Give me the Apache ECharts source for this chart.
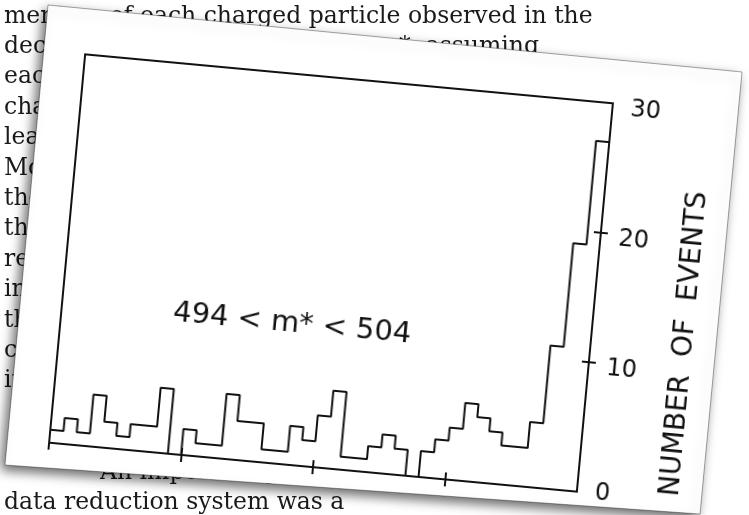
<!DOCTYPE html>
<html>
<head>
<meta charset="utf-8">
<script src="https://cdn.jsdelivr.net/npm/echarts@6/dist/echarts.min.js"></script>
<style>
  html, body { margin: 0; padding: 0; width: 749px; height: 515px; overflow: hidden; background: #fff; }
  #page { position: absolute; left: 0; top: 0; width: 749px; height: 515px; }
  #plot {
    position: absolute; left: 6px; top: 28px; width: 720px; height: 500px;
    transform-origin: 325px 245px; transform: rotate(5.3deg);
  }
</style>
</head>
<body>
<div id="page"></div>
<div id="plot"></div>
<script>
// Running text of the printed page behind the figure
const pageLines = [
  'mentum of each charged particle observed in the',
  'decay and calculated the mass m*, assuming',
  'each track to be a pion. The distribution of m*',
  'charged decays is shown in the figure. For at',
  'least one pair the value of m* must lie near the',
  'Monte Carlo calculations show that the',
  'the',
  'the',
  'resolution',
  'in',
  'the',
  'cuts',
  'in',
  '',
  '',
  'An important part of the analysis was the',
  'data reduction system was a'
];
// paragraph indents in pixels
const pageIndents = [0, 0, 0, 0, 0, 0, 0, 0, 0, 0, 0, 0, 0, 0, 0, 96, 0];

// Histogram: number of events per bin, 40 bins
const counts = [
  1, 2, 1, 4, 2, 1, 2, 2, 5, 0,
  2, 1, 1, 5, 3, 3, 1, 1, 3, 2,
  4, 6, 1, 1, 2, 3, 2, 0, 2, 3,
  4, 6, 5, 4, 3, 3, 5, 11, 19, 27
];
const xTickMarks = [10, 20, 30];
const yTickMarks = [10, 20];
const yMax = 30;
const yInterval = 10;
const yName = 'NUMBER  OF  EVENTS';
const massWindow = '494 < m* < 504';

// ---------- page and card ----------
const page = echarts.init(document.getElementById('page'));
const lineGraphics = pageLines.map((t, i) => ({
  type: 'text',
  x: 4 + pageIndents[i],
  y: 28.5 + 30.4 * i,
  z: 1,
  style: {
    text: t,
    font: '23.5px "DejaVu Serif"',
    fill: '#1a1a1a',
    verticalAlign: 'bottom'
  }
}));
page.setOption({
  animation: false,
  graphic: lineGraphics.concat([{
    type: 'polygon',
    z: 10,
    shape: { points: [[48, 5], [742, 72], [700, 514], [5, 465]] },
    style: {
      fill: '#ffffff',
      stroke: 'rgba(0,0,0,0.35)',
      lineWidth: 1,
      shadowBlur: 12,
      shadowOffsetX: -4,
      shadowOffsetY: 5,
      shadowColor: 'rgba(0,0,0,0.6)'
    }
  }])
});

// ---------- histogram ----------
const steps = counts.map((c, i) => [i, c]);
steps.push([counts.length, counts[counts.length - 1]]);

const ink = '#111';
const tickLine = { color: ink, width: 2 };
const gridBox = { left: 60, top: 50, width: 530, height: 390 };
const labelFont = { fontSize: 24, fontFamily: 'DejaVu Sans', color: ink };

const plot = echarts.init(document.getElementById('plot'));
plot.setOption({
  animation: false,
  backgroundColor: 'transparent',
  grid: [
    Object.assign({ show: true, borderColor: ink, borderWidth: 2, backgroundColor: 'transparent' }, gridBox),
    Object.assign({ show: false }, gridBox)
  ],
  xAxis: [
    {
      gridIndex: 0, type: 'value', position: 'bottom', min: 0, max: counts.length, interval: 10,
      axisLine: { show: true, onZero: false, lineStyle: tickLine },
      axisTick: { show: true, inside: false, length: 7, customValues: [0].concat(xTickMarks), lineStyle: tickLine },
      axisLabel: { show: false },
      splitLine: { show: false }
    },
    {
      gridIndex: 1, type: 'value', position: 'bottom', min: 0, max: counts.length, interval: 10,
      axisLine: { show: false, onZero: false },
      axisTick: { show: true, inside: true, length: 7, customValues: xTickMarks, lineStyle: tickLine },
      axisLabel: { show: false },
      splitLine: { show: false }
    }
  ],
  yAxis: [
    {
      gridIndex: 0, type: 'value', position: 'right', min: 0, max: yMax, interval: yInterval,
      axisLine: { show: true, onZero: false, lineStyle: tickLine },
      axisTick: { show: true, inside: false, length: 7, customValues: yTickMarks, lineStyle: tickLine },
      axisLabel: {
        show: true, margin: 18, color: ink,
        // labels above zero sit a little below their ticks
        formatter: v => (v === 0 ? '{z|' + v + '}' : '{v|' + v + '}'),
        rich: {
          v: Object.assign({ padding: [9, 0, 0, 0] }, labelFont),
          z: Object.assign({}, labelFont)
        }
      },
      splitLine: { show: false },
      name: yName,
      nameLocation: 'middle',
      nameRotate: 90,
      nameGap: 80,
      nameTextStyle: { fontSize: 28, fontFamily: 'DejaVu Sans', color: ink, padding: [0, 76, 0, 0] }
    },
    {
      gridIndex: 1, type: 'value', position: 'right', min: 0, max: yMax, interval: yInterval,
      axisLine: { show: false, onZero: false },
      axisTick: { show: true, inside: true, length: 7, customValues: yTickMarks, lineStyle: tickLine },
      axisLabel: { show: false },
      splitLine: { show: false }
    }
  ],
  series: [{
    type: 'line',
    step: 'end',
    data: steps,
    xAxisIndex: 0,
    yAxisIndex: 0,
    symbol: 'none',
    silent: true,
    lineStyle: { color: ink, width: 2 }
  }],
  graphic: [{
    type: 'text',
    x: 291, y: 299,
    style: {
      text: massWindow,
      font: '29px "DejaVu Sans"',
      fill: ink,
      align: 'center',
      verticalAlign: 'middle'
    }
  }]
});
</script>
</body>
</html>
